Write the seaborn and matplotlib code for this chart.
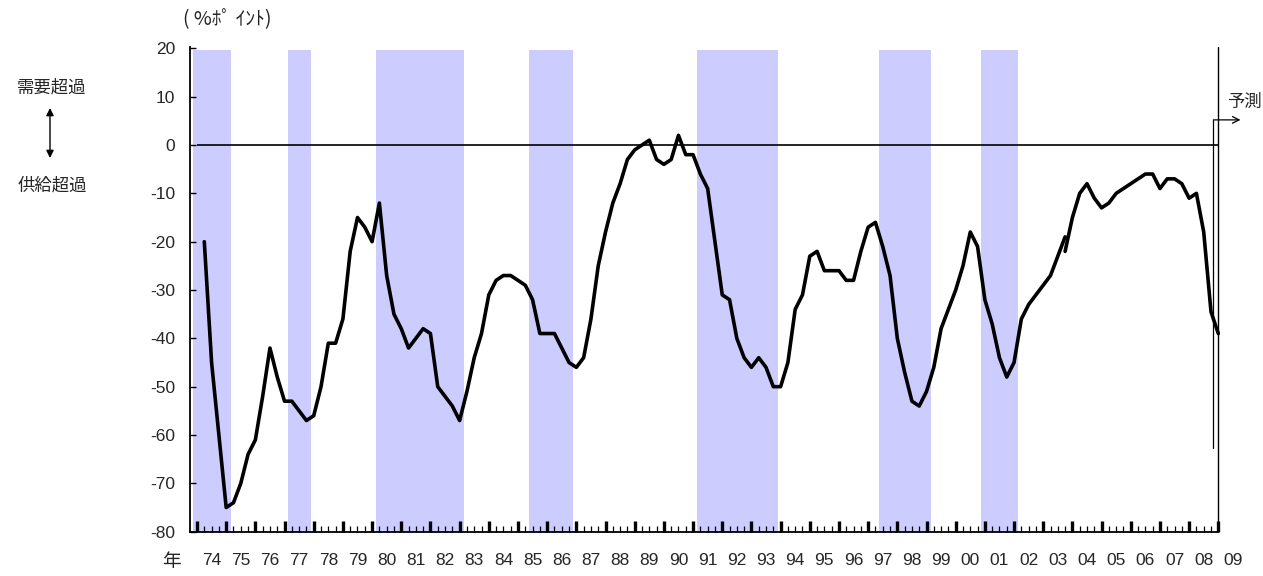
import numpy as np
import pandas as pd
import matplotlib
matplotlib.use("Agg")
import matplotlib.pyplot as plt
from matplotlib.ticker import FixedLocator, NullFormatter
import seaborn as sns

# ---------------- data ----------------
start_year = 1974.25          # first quarterly observation
step = 0.25                   # quarterly
old_basis = [-20, -45, -60, -75, -74, -70, -64, -61, -52, -42,
             -48, -53, -53, -55, -57, -56, -50, -41, -41, -36,
             -22, -15, -17, -20, -12, -27, -35, -38, -42, -40,
             -38, -39, -50, -52, -54, -57, -51, -44, -39, -31,
             -28, -27, -27, -28, -29, -32, -39, -39, -39, -42,
             -45, -46, -44, -36, -25, -18, -12, -8, -3, -1,
             0, 1, -3, -4, -3, 2, -2, -2, -6, -9,
             -20, -31, -32, -40, -44, -46, -44, -46, -50, -50,
             -45, -34, -31, -23, -22, -26, -26, -26, -28, -28,
             -22, -17, -16, -21, -27, -40, -47, -53, -54, -51,
             -46, -38, -34, -30, -25, -18, -21, -32, -37, -44,
             -48, -45, -36, -33, -31, -29, -27, -23, -19]
new_start_year = 2003.75
new_basis = [-22, -15, -10, -8, -11, -13, -12, -10, -9, -8,
             -7, -6, -6, -9, -7, -7, -8, -11, -10, -18,
             -34.5, -39]

recession_start = [1973.86, 1977.13, 1980.13, 1985.39, 1991.15, 1997.38, 2000.87]
recession_end = [1975.16, 1977.91, 1983.15, 1986.88, 1993.90, 1999.14, 2002.13]

first_year = 1974
year_labels = ['74', '75', '76', '77', '78', '79', '80', '81', '82', '83',
               '84', '85', '86', '87', '88', '89', '90', '91', '92', '93',
               '94', '95', '96', '97', '98', '99', '00', '01', '02', '03',
               '04', '05', '06', '07', '08', '09']
y_ticks = [-80, -70, -60, -50, -40, -30, -20, -10, 0, 10, 20]
forecast_x = 2008.83
forecast_line_bottom = -62.7
forecast_arrow_y = 5.2

# ---------------- style ----------------
sns.set_style("ticks")
plt.rcParams['font.family'] = ['Liberation Sans', 'Noto Sans CJK JP', 'DejaVu Sans']
plt.rcParams['axes.unicode_minus'] = False
JP = ['Noto Sans CJK JP', 'DejaVu Sans']

df_old = pd.DataFrame({'x': start_year + step * np.arange(len(old_basis)),
                       'value': old_basis, 'series': 'old'})
df_new = pd.DataFrame({'x': new_start_year + step * np.arange(len(new_basis)),
                       'value': new_basis, 'series': 'new'})
df = pd.concat([df_old, df_new], ignore_index=True)

W, H = 1263, 576
fig = plt.figure(figsize=(W / 100, H / 100), dpi=100)
x0_px = 190.0
px_per_year = 29.18
xlim = (1973.76, 2009.7)
right_px = x0_px + (xlim[1] - xlim[0]) * px_per_year
top_px, bot_px = 46.9, 531.7
ax = fig.add_axes([x0_px / W, 1 - bot_px / H, (right_px - x0_px) / W, (bot_px - top_px) / H])

for s, e in zip(recession_start, recession_end):
    ax.axvspan(s, e, ymin=0, ymax=0.994, color='#CCCCFF', lw=0, zorder=0)

last_year = first_year + len(year_labels) - 1
ax.hlines(0, first_year, last_year, color='black', lw=1.2, zorder=1)
ax.axvline(last_year, color='black', lw=1.0, zorder=1)

sns.lineplot(data=df, x='x', y='value', hue='series', palette=['black', 'black'],
             legend=False, lw=2.6, estimator=None, ax=ax, zorder=3)

ax.set_xlim(*xlim)
ax.set_ylim(-80, 20.3)
ax.set_xlabel('')
ax.set_ylabel('')

years = np.arange(first_year, last_year + 1)
quarters = np.array([y + q * 0.25 for y in years[:-1] for q in (1, 2, 3)])
ax.xaxis.set_major_locator(FixedLocator(years))
ax.xaxis.set_minor_locator(FixedLocator(quarters))
ax.xaxis.set_major_formatter(NullFormatter())
ax.tick_params(axis='x', which='major', direction='in', length=8, width=2.4,
               labelbottom=False, color='black')
ax.tick_params(axis='x', which='minor', direction='in', length=4.3, width=0.9, color='black')
ax.set_yticks(y_ticks)
ax.tick_params(axis='y', direction='in', length=4, width=1, pad=10.5, labelsize=12.5,
               color='black')

for side in ('top', 'right'):
    ax.spines[side].set_visible(False)
ax.spines['bottom'].set_bounds(xlim[0], last_year)
ax.spines['left'].set_linewidth(1.3)
ax.spines['bottom'].set_linewidth(1.3)
ax.spines['left'].set_color('black')
ax.spines['bottom'].set_color('black')

sec = ax.secondary_xaxis('bottom')
sec.set_xticks(years + 0.5, labels=year_labels)
sec.tick_params(length=0, pad=15, labelsize=12.5)
sec.spines['bottom'].set_visible(False)

# forecast marker
ax.plot([forecast_x, forecast_x], [forecast_line_bottom, forecast_arrow_y],
        color='black', lw=0.9, clip_on=False, zorder=4)
ax.annotate('', xy=(2009.76, forecast_arrow_y), xytext=(forecast_x, forecast_arrow_y),
            arrowprops=dict(arrowstyle='->', lw=0.9, color='black', shrinkA=0, shrinkB=0,
                            mutation_scale=12),
            annotation_clip=False)
ax.text(2009.3, 9.0, '予測', family=JP, fontsize=12.5, ha='left', va='center', clip_on=False)

# outer labels
fig.text(52 / W, 1 - 88 / H, '需要超過', family=JP, fontsize=12.5, ha='center', va='center')
fig.text(52 / W, 1 - 186 / H, '供給超過', family=JP, fontsize=12.5, ha='center', va='center')
ax.annotate('', xy=(50 / W, 1 - 108 / H), xytext=(50 / W, 1 - 158 / H),
            xycoords='figure fraction', textcoords='figure fraction',
            arrowprops=dict(arrowstyle='<|-|>', lw=1.0, color='black', mutation_scale=11,
                            shrinkA=0, shrinkB=0))
fig.text(227 / W, 1 - 20 / H, '( %ﾎﾟ ｲﾝﾄ)', family=JP, fontsize=14, ha='center', va='center')
fig.text(171 / W, 1 - 562 / H, '年', family=JP, fontsize=13.5, ha='center', va='center')

fig.savefig('out.png', dpi=100)
